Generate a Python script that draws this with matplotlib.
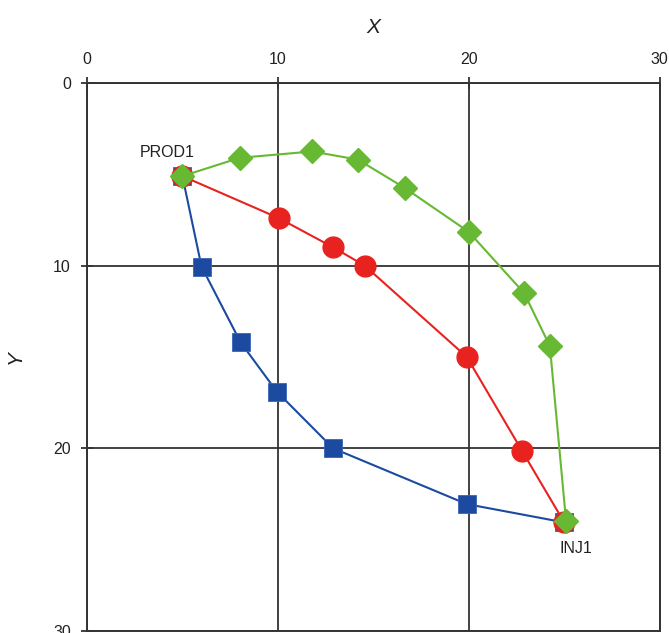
import matplotlib
matplotlib.use("Agg")
import matplotlib.pyplot as plt

plt.rcParams["font.family"] = ["Liberation Sans", "DejaVu Sans"]

# well positions
wells = ["PROD1", "INJ1"]
well_x = [5.0, 25.0]
well_y = [5.1, 24.0]

# blue path (squares)
blue_x = [5.0, 6.0, 8.05, 9.95, 12.9, 19.9, 25.0]
blue_y = [5.1, 10.05, 14.2, 16.9, 20.0, 23.05, 24.05]

# red path (circles)
red_x = [5.0, 10.05, 12.9, 14.55, 19.9, 22.8, 25.0]
red_y = [5.1, 7.4, 9.0, 10.0, 15.0, 20.15, 24.05]

# green path (diamonds)
green_x = [5.0, 8.0, 11.8, 14.2, 16.65, 20.0, 22.9, 24.25, 25.1]
green_y = [5.1, 4.1, 3.75, 4.2, 5.75, 8.15, 11.5, 14.4, 24.0]

ticks = [0, 10, 20, 30]

fig = plt.figure(figsize=(6.69, 6.33), dpi=100)
ax = fig.add_axes([0.130, 0.003, 0.856, 0.866])

ax.plot(blue_x, blue_y, color="#1b4aa0", lw=1.5, marker="s", ms=12.5,
        markeredgecolor="#3a64b8", markeredgewidth=0.6, zorder=3)
ax.plot(red_x, red_y, color="#e8221e", lw=1.5, marker="o", ms=15,
        markeredgecolor="#e8221e", zorder=4)
ax.plot(green_x, green_y, color="#67b832", lw=1.5, marker="D", ms=12.5,
        markeredgecolor="#67b832", zorder=5)

ax.text(4.2, 3.8, wells[0], ha="center", va="center", fontsize=11.5, color="#222222")
ax.text(25.6, 25.5, wells[1], ha="center", va="center", fontsize=11.5, color="#222222")

ax.set_xlim(0, 30)
ax.set_ylim(30, 0)
ax.set_xticks(ticks)
ax.set_yticks(ticks)
ax.xaxis.tick_top()
ax.xaxis.set_label_position("top")
ax.tick_params(axis="both", direction="inout", length=9, width=1.3,
               color="#333333", labelsize=11.5, labelcolor="#222222", pad=7)
ax.grid(True, color="#333333", lw=1.3)
ax.set_axisbelow(True)
for s in ax.spines.values():
    s.set_color("#333333")
    s.set_linewidth(1.4)

ax.set_xlabel("X", fontsize=15, fontstyle="italic", labelpad=14, color="#222222")
ax.set_ylabel("Y", fontsize=15, fontstyle="italic", color="#222222")
ax.yaxis.set_label_coords(-0.108, 0.5)

fig.savefig("out.png", dpi=100)
